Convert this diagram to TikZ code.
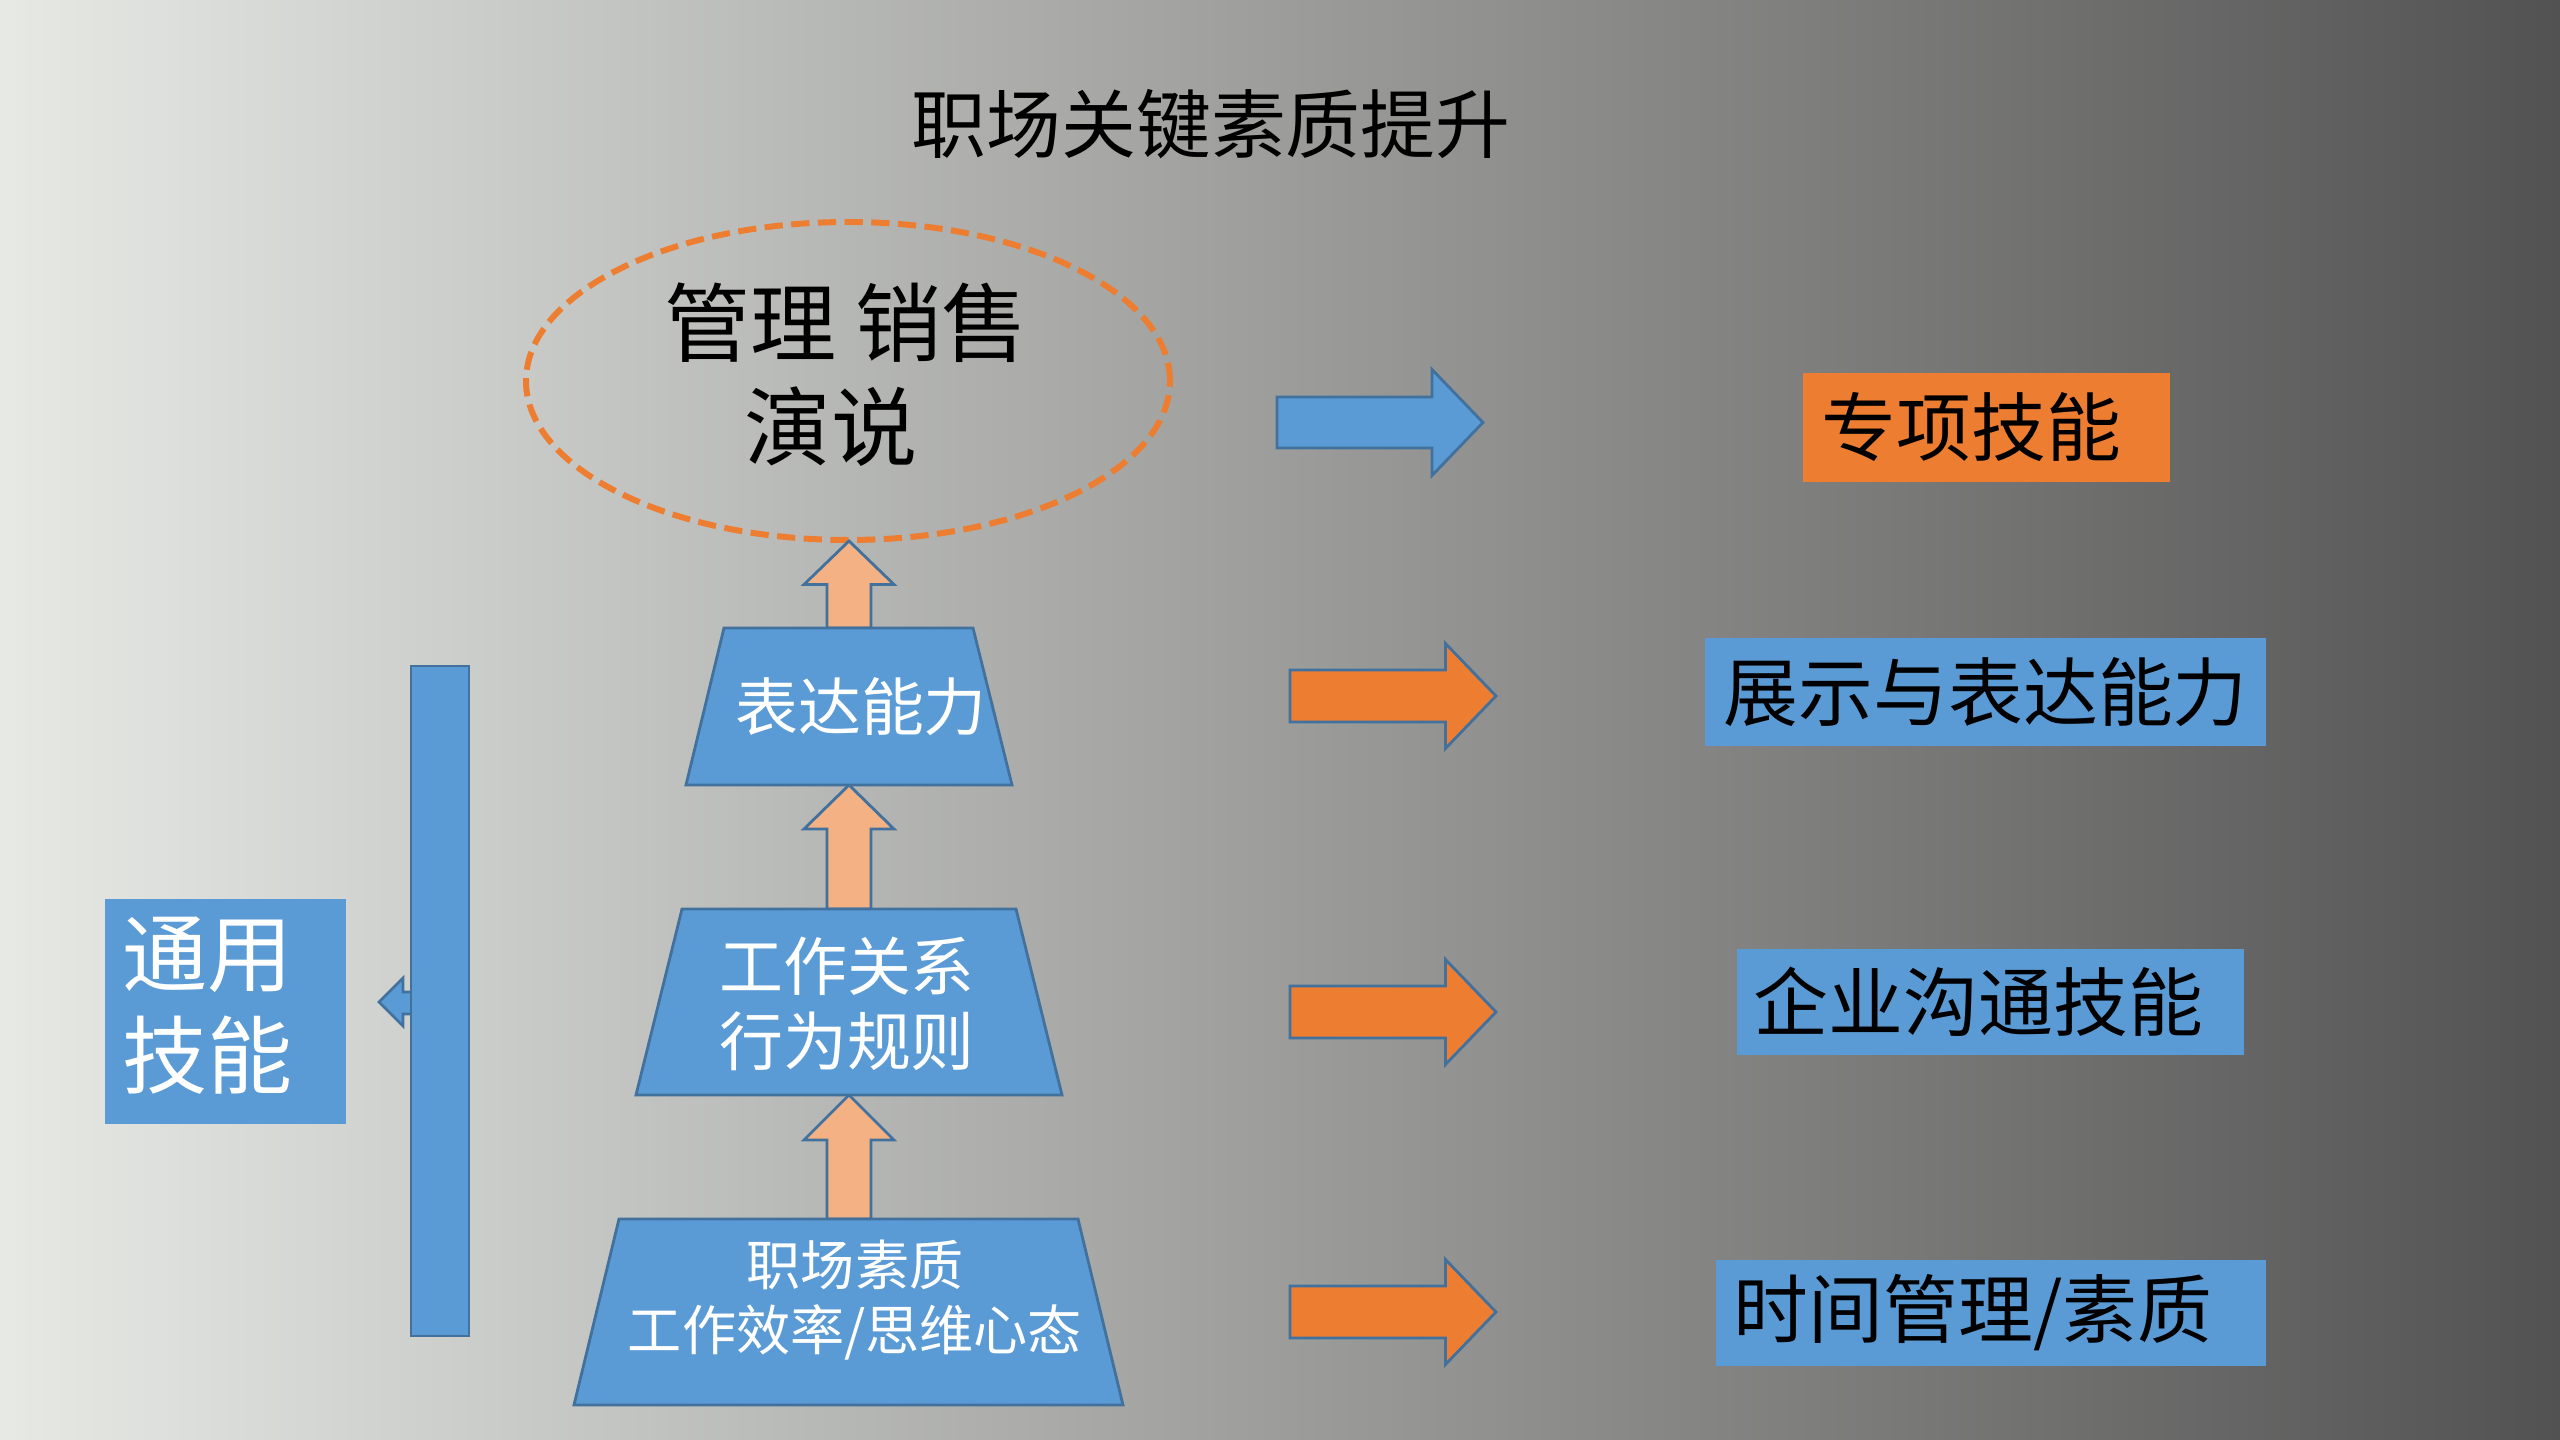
\documentclass[tikz,border=0pt]{standalone}
\usepackage{fontspec}
\newfontfamily\cjk{Noto Sans CJK SC}
\usetikzlibrary{shapes.geometric}
\definecolor{accblue}{HTML}{5B9BD5}
\definecolor{edgeblue}{HTML}{41719C}
\definecolor{accorange}{HTML}{ED7D31}
\definecolor{lightorange}{HTML}{F4B183}
\definecolor{bgleft}{RGB}{231,233,229}
\definecolor{bgright}{RGB}{82,82,82}
\tikzset{
  blockarrow/.style={draw=edgeblue, line width=0.8pt, line join=miter},
  trapbox/.style={draw=edgeblue, fill=accblue, line width=0.8pt, line join=miter},
  flatbox/.style={rectangle, draw=none, inner sep=0pt, anchor=north west},
  rtext/.style={inner sep=0pt, anchor=west, text=black, font=\cjk\fontsize{21.3}{25}\selectfont},
  wtext/.style={inner sep=0pt, text=white, align=center},
}
% right block arrow: fill, x0, xback, xtip, ycenter, shaft half, head half
\newcommand\rblock[7]{\draw[blockarrow, fill=#1] (#2,#5-#6) -- (#3,#5-#6) -- (#3,#5-#7) -- (#4,#5) -- (#3,#5+#7) -- (#3,#5+#6) -- (#2,#5+#6) -- cycle;}
% up block arrow: xcenter, tip, base, bottom
\newcommand\ublock[4]{\draw[blockarrow, fill=lightorange] (#1-22,#4) -- (#1-22,#3) -- (#1-45,#3) -- (#1,#2) -- (#1+45,#3) -- (#1+22,#3) -- (#1+22,#4) -- cycle;}
\begin{document}
\begin{tikzpicture}[x=0.1mm,y=-0.1mm]
\useasboundingbox (0,0) rectangle (2560,1440);
\shade[left color=bgleft, right color=bgright] (0,0) rectangle (2560,1440);

% title
\node[inner sep=0pt, font=\cjk\fontsize{21.3}{25}\selectfont] (title) at (1211,124) {职场关键素质提升};

% dashed ellipse
\node[ellipse, draw=accorange, line width=1.7pt, dash pattern=on 5.2pt off 2.4pt, minimum width=64.4mm, minimum height=31.8mm, inner sep=0pt] (special) at (848,381) {};
\node[inner sep=0pt, align=center, font=\cjk\fontsize{24.5}{29.6}\selectfont] (specialtext) at (846,375) {管理 销售\\演说\hspace*{3mm}};

% up arrows
\ublock{849}{541}{584.5}{628}
\ublock{849}{785}{829}{909}
\ublock{849}{1095}{1140}{1219}

% trapezoids
\draw[trapbox] (724,628) -- (973,628) -- (1012,785) -- (686,785) -- cycle;
\draw[trapbox] (682,909) -- (1016,909) -- (1062,1095) -- (636,1095) -- cycle;
\draw[trapbox] (619,1219) -- (1078,1219) -- (1123,1405) -- (574,1405) -- cycle;
\node[wtext, font=\cjk\fontsize{17.9}{21}\selectfont] (expr) at (861,707) {表达能力};
\node[wtext, font=\cjk\fontsize{18.2}{21.3}\selectfont] (rel) at (847,1004) {工作关系\\行为规则};
\node[wtext, font=\cjk\fontsize{15.4}{18.5}\selectfont] (qual) at (855,1300) {职场素质\\工作效率/思维心态};

% left bar with arrow
\draw[blockarrow, fill=accblue] (440,992) -- (403,992) -- (403,978) -- (379,1002) -- (403,1026) -- (403,1014) -- (440,1014) -- cycle;
\draw[trapbox] (411,666) rectangle (469,1336);

% general skills box
\node[flatbox, fill=accblue, minimum width=24.1mm, minimum height=22.5mm] (general) at (104,898) {};
\node[inner sep=0pt, anchor=west, align=left, text=white, font=\cjk\fontsize{24.2}{29}\selectfont] (generaltext) at (122,1006) {通用\\技能};

% right arrows
\rblock{accblue}{1277}{1432}{1483}{422.5}{25.5}{53}
\rblock{accorange}{1290}{1445.5}{1496}{696}{26}{52.5}
\rblock{accorange}{1290}{1445.5}{1496}{1012}{26}{52.5}
\rblock{accorange}{1290}{1445.5}{1496}{1312}{26}{52.5}

% right boxes
\node[flatbox, fill=accorange, minimum width=36.7mm, minimum height=10.9mm] (b1) at (1802,372) {};
\node[rtext] (b1t) at ([xshift=1.9mm]b1.west) {专项技能};
\node[flatbox, fill=accblue, minimum width=56.1mm, minimum height=10.8mm] (b2) at (1704,637) {};
\node[rtext] (b2t) at ([xshift=1.9mm]b2.west) {展示与表达能力};
\node[flatbox, fill=accblue, minimum width=50.7mm, minimum height=10.65mm] (b3) at (1736,948) {};
\node[rtext] (b3t) at ([xshift=1.7mm]b3.west) {企业沟通技能};
\node[flatbox, fill=accblue, minimum width=55mm, minimum height=10.6mm] (b4) at (1715,1259) {};
\node[rtext] (b4t) at ([xshift=1.8mm]b4.west) {时间管理/素质};
\end{tikzpicture}
\end{document}
